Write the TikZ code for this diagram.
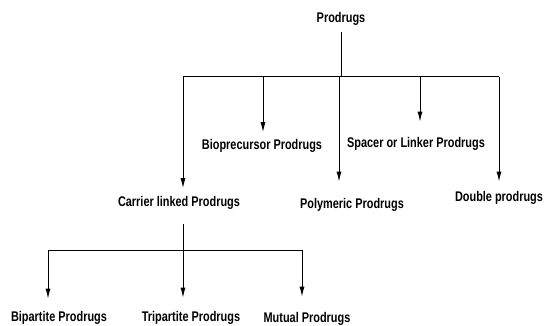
\documentclass[tikz,border=0pt]{standalone}
\usepackage{fontspec}
\setmainfont{Liberation Sans}[FakeStretch=0.78]
\usepackage{tikz}
\usetikzlibrary{arrows.meta}

\begin{document}
\begin{tikzpicture}[x=1pt,y=-1pt]
  \tikzset{kind/.style = {anchor=base,inner sep=0pt,font=\fontsize{14}{16}\selectfont\bfseries}}
  \tikzset{edge/.style = {-{Latex[length=10pt,width=5pt]},line width=1pt}}
  \tikzset{bar/.style = {line width=1pt}}
  \tikzset{stem/.style = {line width=0.5pt}}

  \useasboundingbox (0,0) rectangle (544,326);

  % classes of prodrugs
	\node[kind] (root) at (341,23) {Prodrugs};
	\node[kind] (bio) at (262,149.5) {Bioprecursor Prodrugs};
	\node[kind] (spacer) at (416,148) {Spacer or Linker Prodrugs};
	\node[kind] (carrier) at (179,206.5) {Carrier linked Prodrugs};
	\node[kind] (poly) at (352,208) {Polymeric Prodrugs};
	\node[kind] (double) at (499,202) {Double prodrugs};

	% carrier linked subtypes
	\node[kind] (bip) at (59,321) {Bipartite Prodrugs};
	\node[kind] (trip) at (191,321) {Tripartite Prodrugs};
	\node[kind] (mutual) at (307,322) {Mutual Prodrugs};

	\coordinate (top) at (341,77);
	\coordinate (t1) at (183,77);
	\coordinate (t2) at (263,77);
	\coordinate (t3) at (339,77);
	\coordinate (t4) at (420,77);
	\coordinate (t5) at (499,77);

	\coordinate (low) at (183,250);
	\coordinate (b1) at (48,250);
	\coordinate (b2) at (183,250);
	\coordinate (b3) at (302,250);

	\draw[stem,shorten <=6pt] (root.south) -- (top);
	\draw[bar] (t1) -- (t5);
       \foreach \from/\to/\gap in {t1/carrier/8pt, t2/bio/7pt, t3/poly/16pt, t4/spacer/16pt, t5/double/10pt}
    \draw[edge,shorten >=\gap] (\from) -- (\from |- \to.north);

	\draw[stem,shorten <=14pt] (carrier.south -| low) -- (low);
	\draw[bar] (b1) -- (b3);
       \foreach \from/\to/\gap in {b1/bip/12pt, b2/trip/13pt, b3/mutual/15pt}
    \draw[edge,shorten >=\gap] (\from) -- (\from |- \to.north);
\end{tikzpicture}
\end{document}
